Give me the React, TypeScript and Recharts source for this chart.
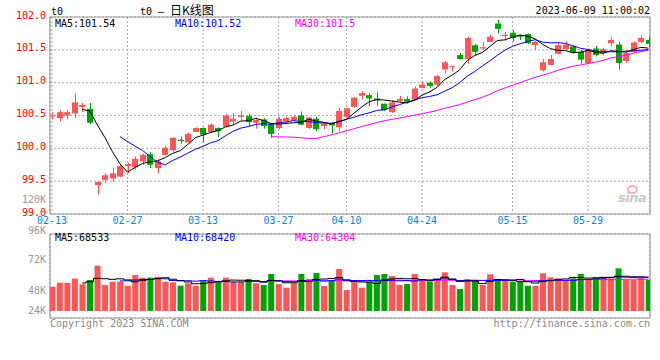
import React from "react"
import {
  ComposedChart,
  Bar,
  Line,
  XAxis,
  YAxis,
  CartesianGrid,
  ReferenceArea,
  Cell,
} from "recharts"

// daily K data (index 0 = 02-13)
const opens = [
  100.5, 100.46, 100.5, 100.53, 100.63, 100.6, 99.44, 99.52, 99.54, 99.57,
  99.73, 99.71, 99.8, 99.91, 99.7, 99.9, 99.97, 100.13, 100.09, 100.25,
  100.31, 100.25, 100.31, 100.33, 100.41, 100.48, 100.49, 100.39, 100.44, 100.37,
  100.31, 100.41, 100.43, 100.5, 100.31, 100.45, 100.34, 100.38, 100.32, 100.48,
  100.63, 100.8, 100.81, 100.76, 100.68, 100.55, 100.72, 100.75, 100.74, 100.92,
  101.0, 100.97, 101.2, 101.24, 101.42, 101.36, 101.57, 101.52, 101.62, 101.9,
  101.71, 101.76, 101.72, 101.74, 101.57, 101.19, 101.27, 101.44, 101.51, 101.55,
  101.47, 101.3, 101.52, 101.45, 101.6, 101.58, 101.33, 101.47, 101.62, 101.65,
]
const highs = [
  100.55, 100.58, 100.58, 100.84, 100.69, 100.69, 99.49, 99.62, 99.7, 99.76,
  99.78, 99.88, 99.92, 99.94, 99.84, 100.04, 100.17, 100.18, 100.24, 100.32,
  100.32, 100.38, 100.32, 100.52, 100.54, 100.57, 100.52, 100.45, 100.46, 100.39,
  100.48, 100.48, 100.5, 100.56, 100.48, 100.48, 100.39, 100.4, 100.62, 100.62,
  100.78, 100.87, 100.84, 100.85, 100.68, 100.73, 100.8, 100.79, 100.94, 101.02,
  101.02, 101.12, 101.33, 101.26, 101.45, 101.7, 101.59, 101.62, 101.73, 101.96,
  101.77, 101.8, 101.73, 101.75, 101.63, 101.36, 101.42, 101.62, 101.63, 101.57,
  101.5, 101.52, 101.56, 101.53, 101.7, 101.62, 101.47, 101.63, 101.72, 101.7,
]
const lows = [
  100.44, 100.41, 100.44, 100.46, 100.55, 100.37, 99.3, 99.47, 99.49, 99.56,
  99.62, 99.68, 99.75, 99.7, 99.62, 99.89, 99.95, 100.07, 100.09, 100.25,
  100.09, 100.23, 100.17, 100.32, 100.35, 100.42, 100.33, 100.3, 100.3, 100.16,
  100.29, 100.38, 100.41, 100.35, 100.3, 100.26, 100.29, 100.23, 100.26, 100.46,
  100.62, 100.74, 100.64, 100.65, 100.57, 100.54, 100.7, 100.68, 100.73, 100.91,
  100.92, 100.94, 101.14, 101.17, 101.35, 101.29, 101.41, 101.5, 101.62, 101.75,
  101.64, 101.63, 101.65, 101.59, 101.5, 101.17, 101.26, 101.43, 101.5, 101.44,
  101.29, 101.28, 101.4, 101.42, 101.55, 101.2, 101.3, 101.46, 101.6, 101.54,
]
const closes = [
  100.5, 100.55, 100.55, 100.7, 100.66, 100.39, 99.49, 99.59, 99.62, 99.73,
  99.76, 99.84, 99.9, 99.75, 99.8, 100.01, 100.16, 100.11, 100.22, 100.31,
  100.21, 100.36, 100.26, 100.5, 100.45, 100.5, 100.4, 100.43, 100.34, 100.22,
  100.45, 100.46, 100.48, 100.36, 100.47, 100.29, 100.38, 100.35, 100.57, 100.61,
  100.77, 100.84, 100.76, 100.73, 100.58, 100.7, 100.75, 100.71, 100.91, 100.97,
  100.95, 101.1, 101.31, 101.25, 101.36, 101.68, 101.47, 101.54, 101.7, 101.82,
  101.73, 101.68, 101.7, 101.6, 101.62, 101.31, 101.36, 101.57, 101.58, 101.46,
  101.35, 101.5, 101.42, 101.51, 101.65, 101.3, 101.45, 101.61, 101.68, 101.59,
]
const volumes = [
  49300, 57400, 57100, 65600, 54200, 62900, 92000, 52800, 59500, 59800,
  51400, 73100, 67600, 67800, 69600, 59500, 58300, 51400, 56200, 51300,
  60900, 67600, 58300, 67600, 59500, 59400, 65000, 56200, 52800, 75100,
  54800, 47300, 56200, 75100, 65000, 77100, 50800, 60900, 85300, 42600,
  58300, 47300, 58300, 73100, 75100, 71100, 52800, 54800, 75100, 65000,
  59500, 65000, 78600, 52800, 44600, 65000, 62900, 52800, 74500, 65000,
  61500, 59500, 60000, 51300, 51300, 76500, 68400, 66400, 62900, 66400,
  75400, 62900, 68400, 68400, 66400, 86700, 62900, 62900, 67300, 62900,
]

const tickIndex = [0, 10, 20, 30, 39, 49, 61, 71]
const tickLabels = ["02-13", "02-27", "03-13", "03-27", "04-10", "04-24", "05-15", "05-29"]
const priceTicks = [99, 99.5, 100, 100.5, 101, 101.5, 102]
const volGridTicks = [31000, 71600, 112300]

const UP = "#ff5555"
const DOWN = "#00a400"
const MONO = "'DejaVu Sans Mono', monospace"
const X_DOMAIN: [number, number] = [-0.265, 79.2]
const VOL_DOMAIN: [number, number] = [-14200, 156300]

const movingAvg = (arr: number[], n: number) =>
  arr.map((_, i) =>
    i < n - 1 ? null : arr.slice(i - n + 1, i + 1).reduce((s, v) => s + v, 0) / n
  )

const ma5 = movingAvg(closes, 5)
const ma10 = movingAvg(closes, 10)
const ma30 = movingAvg(closes, 30)
const vma5 = movingAvg(volumes, 5)
const vma10 = movingAvg(volumes, 10)
const vma30 = movingAvg(volumes, 30)

const data = opens.map((o, i) => ({
  i,
  open: o,
  high: highs[i],
  low: lows[i],
  close: closes[i],
  vol: volumes[i],
  ma5: ma5[i],
  ma10: ma10[i],
  ma30: ma30[i],
  vma5: vma5[i],
  vma10: vma10[i],
  vma30: vma30[i],
}))

function Candle(props: any) {
  const { x, y, width, height, payload } = props
  const { open, close, high, low } = payload
  const top = Math.min(y, y + height)
  const span = Math.abs(height)
  const toY = (p: number) =>
    high === low ? top : top + ((high - p) / (high - low)) * span
  const color = close >= open ? UP : DOWN
  const bodyTop = toY(Math.max(open, close))
  const bodyH = Math.max(1, toY(Math.min(open, close)) - bodyTop)
  const cx = Math.round(x + width / 2) + 0.5
  return (
    <g>
      <line x1={cx} x2={cx} y1={top} y2={top + span} stroke={color} strokeWidth={1} />
      <rect x={Math.round(x)} y={bodyTop} width={width} height={bodyH} fill={color} />
    </g>
  )
}

function Txt({ x, y, color, children, right, size = 10, font = MONO }: any) {
  const style: React.CSSProperties = {
    position: "absolute",
    top: y - 6,
    height: 12,
    lineHeight: "12px",
    fontSize: size,
    fontFamily: font,
    color,
    whiteSpace: "nowrap",
  }
  if (right) style.right = 660 - x
  else style.left = x
  return <div style={style}>{children}</div>
}

export default function App() {
  return (
    <div
      style={{
        position: "absolute",
        left: 0,
        top: 0,
        width: 660,
        height: 360,
        background: "#fff",
        overflow: "hidden",
      }}
    >
      <div style={{ position: "absolute", left: 0, top: 0 }}>
        <ComposedChart
          width={660}
          height={230}
          data={data}
          margin={{ top: 17, right: 10, bottom: 0, left: 0 }}
        >
          <CartesianGrid stroke="#aaa" strokeDasharray="2 2" />
          <XAxis
            dataKey="i"
            type="number"
            domain={X_DOMAIN}
            allowDataOverflow
            ticks={tickIndex}
            tickFormatter={(v: number) => tickLabels[tickIndex.indexOf(v)] ?? ""}
            height={16}
            axisLine={false}
            tickLine={false}
            tickSize={0}
            tickMargin={3}
            tick={{ fill: "#0a84d8", fontSize: 10, fontFamily: MONO }}
          />
          <YAxis
            domain={[99, 102]}
            ticks={priceTicks}
            tickFormatter={(v: number) => v.toFixed(1)}
            width={50}
            axisLine={false}
            tickLine={false}
            tickSize={0}
            tickMargin={4}
            tick={{ fill: "#ff0000", fontSize: 10, fontFamily: MONO, dy: -2 }}
          />
          <ReferenceArea
            x1={X_DOMAIN[0]}
            x2={X_DOMAIN[1]}
            y1={99}
            y2={102}
            fill="none"
            stroke="#999"
            strokeWidth={1.2}
          />
          <Bar
            dataKey={(d: any) => [d.low, d.high]}
            barSize={6}
            shape={(p: any) => <Candle {...p} />}
            isAnimationActive={false}
          />
          <Line dataKey="ma30" stroke="#ff00ff" strokeWidth={1} dot={false} isAnimationActive={false} />
          <Line dataKey="ma10" stroke="#0000ff" strokeWidth={1} dot={false} isAnimationActive={false} />
          <Line dataKey="ma5" stroke="#000" strokeWidth={1} dot={false} isAnimationActive={false} />
        </ComposedChart>
      </div>

      <div style={{ position: "absolute", left: 0, top: 230 }}>
        <ComposedChart
          width={660}
          height={100}
          data={data}
          margin={{ top: 4, right: 10, bottom: 12, left: 50 }}
        >
          <CartesianGrid stroke="#aaa" strokeDasharray="2 2" />
          <XAxis
            dataKey="i"
            type="number"
            domain={X_DOMAIN}
            allowDataOverflow
            ticks={tickIndex}
            height={0}
            tick={false}
            axisLine={false}
            tickLine={false}
          />
          <YAxis
            domain={VOL_DOMAIN}
            allowDataOverflow
            ticks={volGridTicks}
            width={0}
            tick={false}
            axisLine={false}
            tickLine={false}
          />
          <ReferenceArea
            x1={X_DOMAIN[0]}
            x2={X_DOMAIN[1]}
            y1={VOL_DOMAIN[0]}
            y2={VOL_DOMAIN[1]}
            fill="none"
            stroke="#999"
            strokeWidth={1.2}
          />
          <Bar dataKey="vol" barSize={6} isAnimationActive={false}>
            {data.map((d) => (
              <Cell key={d.i} fill={d.close >= d.open ? UP : DOWN} />
            ))}
          </Bar>
          <Line type="step" dataKey="vma30" stroke="#ff00ff" strokeWidth={1} dot={false} isAnimationActive={false} />
          <Line type="step" dataKey="vma10" stroke="#0000ff" strokeWidth={1} dot={false} isAnimationActive={false} />
          <Line type="step" dataKey="vma5" stroke="#000" strokeWidth={1} dot={false} isAnimationActive={false} />
        </ComposedChart>
      </div>

      {/* header */}
      <Txt x={51} y={12} color="#000">t0</Txt>
      <div
        style={{
          position: "absolute",
          left: 140,
          top: 3,
          lineHeight: "14px",
          whiteSpace: "nowrap",
          color: "#000",
        }}
      >
        <span style={{ fontFamily: MONO, fontSize: 10 }}>t0 — </span>
        <span style={{ fontFamily: "'Noto Sans CJK SC'", fontSize: 12 }}>日K线图</span>
      </div>
      <Txt x={650} y={11} color="#000" right>2023-06-09 11:00:02</Txt>

      {/* price legend */}
      <Txt x={55} y={24} color="#000">MA5:101.54</Txt>
      <Txt x={175} y={24} color="#0000ff">MA10:101.52</Txt>
      <Txt x={295} y={24} color="#ff00ff">MA30:101.5</Txt>

      {/* watermark */}
      <div
        style={{
          position: "absolute",
          left: 627,
          top: 185,
          width: 11,
          height: 9,
          borderRadius: "50%",
          border: "2px solid #f3b4b4",
          boxSizing: "border-box",
        }}
      />
      <div
        style={{
          position: "absolute",
          left: 618,
          top: 190,
          fontFamily: "'DejaVu Sans'",
          fontStyle: "italic",
          fontWeight: "bold",
          fontSize: 13,
          lineHeight: "15px",
          color: "#c8c8c8",
          letterSpacing: -0.5,
        }}
      >
        sina
      </div>

      {/* volume axis labels */}
      <Txt x={46} y={200} color="#999" right>120K</Txt>
      <Txt x={46} y={231} color="#999" right>96K</Txt>
      <Txt x={46} y={260} color="#999" right>72K</Txt>
      <Txt x={46} y={291} color="#999" right>48K</Txt>
      <Txt x={46} y={311} color="#999" right>24K</Txt>

      {/* volume legend */}
      <Txt x={55} y={238} color="#000">MA5:68533</Txt>
      <Txt x={175} y={238} color="#0000ff">MA10:68420</Txt>
      <Txt x={295} y={238} color="#ff00ff">MA30:64304</Txt>

      {/* footer */}
      <Txt x={50} y={324} color="#888">Copyright 2023 SINA.COM</Txt>
      <Txt x={650} y={324} color="#888" right>http://finance.sina.com.cn</Txt>
    </div>
  )
}
